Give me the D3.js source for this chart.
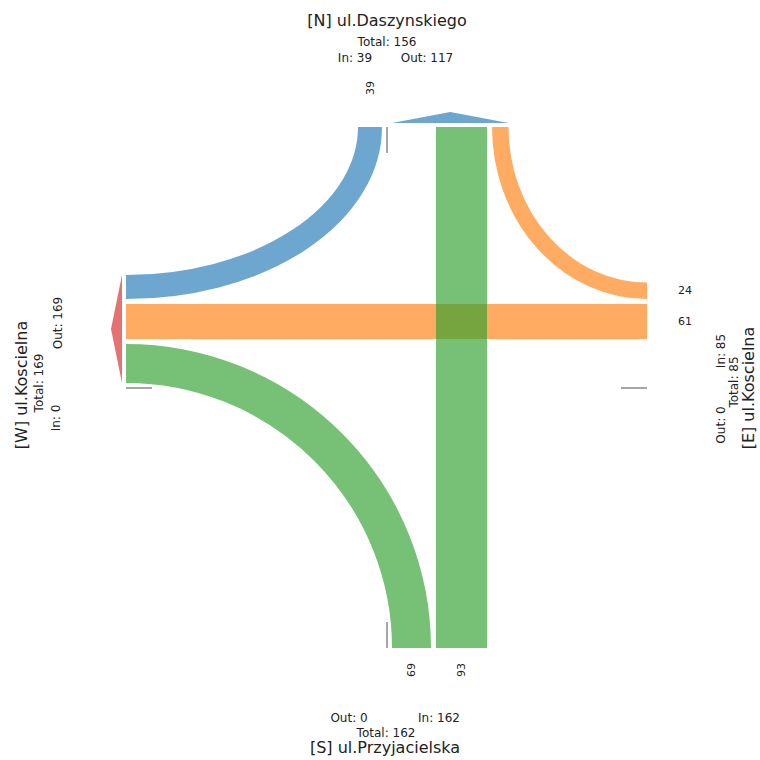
<!DOCTYPE html>
<html><head><meta charset="utf-8">
<script src="https://cdn.jsdelivr.net/npm/d3@7"></script>
<style>body{margin:0;background:#fff}svg{display:block}text{font-family:"DejaVu Sans",sans-serif;fill:#222}</style>
</head><body><svg id="c" width="760" height="760"></svg>
<script>
// ---- data ----
const approaches = ["N", "E", "S", "W"];
const streetNames = ["ul.Daszynskiego", "ul.Koscielna", "ul.Przyjacielska", "ul.Koscielna"];
const approachColors = ["#1f77b4", "#ff7f0e", "#2ca02c", "#d62728"];
const flowFrom = ["N", "E", "E", "S", "S"];
const flowTo = ["W", "N", "W", "W", "N"];
const flowValue = [39, 24, 61, 69, 93];

// ---- layout ----
const svg = d3.select("#c");
const L = 126, R = 647, T = 127, B = 648;
const cx = 387, cy = 388, gap = 5, alpha = 0.65;
const w = d3.scaleLinear().domain([0, d3.max(flowValue)]).range([4.5, 51]);
const color = d3.scaleOrdinal().domain(approaches).range(approachColors);

const flows = flowFrom.map((f, i) => ({from: f, to: flowTo[i], value: flowValue[i], w: w(flowValue[i])}));
const straight = f => (f.from === "N" && f.to === "S") || (f.from === "S" && f.to === "N") ||
                      (f.from === "E" && f.to === "W") || (f.from === "W" && f.to === "E");

// W outgoing lanes: stacked upward from centre, ordered by origin S, E, N
let pos = cy - gap;
["S", "E", "N"].forEach(o => flows.filter(f => f.to === "W" && f.from === o).forEach(f => {
  f.exit = [pos - f.w, pos]; pos = pos - f.w - gap;
}));
// S incoming lanes: stacked rightward from centre, ordered by destination W, N
pos = cx + gap;
["W", "N", "E"].forEach(d => flows.filter(f => f.from === "S" && f.to === d).forEach(f => {
  f.entry = [pos, pos + f.w]; pos = pos + f.w + gap;
}));
// N incoming lanes: stacked leftward from centre
pos = cx - gap;
["W", "S", "E"].forEach(d => flows.filter(f => f.from === "N" && f.to === d).forEach(f => {
  f.entry = [pos - f.w, pos]; pos = pos - f.w - gap;
}));
// E incoming: straight lanes reuse W positions, others stacked above
let eTop = d3.min(flows.filter(f => f.from === "E" && straight(f)), f => f.exit[0]);
flows.filter(f => f.from === "E" && straight(f)).forEach(f => { f.entry = f.exit; });
flows.filter(f => f.from === "E" && !straight(f)).forEach(f => {
  f.entry = [eTop - gap - f.w, eTop - gap]; eTop = eTop - gap - f.w;
});
// N outgoing: straight lanes reuse S positions, others stacked right
let nRight = d3.max(flows.filter(f => f.to === "N" && straight(f)), f => f.entry[1]);
flows.filter(f => f.to === "N" && straight(f)).forEach(f => { f.exit = f.entry; });
flows.filter(f => f.to === "N" && !straight(f)).forEach(f => {
  f.exit = [nRight + gap, nRight + gap + f.w]; nRight = nRight + gap + f.w;
});

const mid = a => (a[0] + a[1]) / 2;
// endpoints for each flow
function endPoint(side, range) {
  if (side === "N") return [mid(range), T];
  if (side === "S") return [mid(range), B];
  if (side === "W") return [L, mid(range)];
  return [R, mid(range)];
}
const corner = {NW: [L, T], WN: [L, T], NE: [R, T], EN: [R, T], SW: [L, B], WS: [L, B], SE: [R, B], ES: [R, B]};

const g = svg.append("g");
flows.forEach(f => {
  const s = endPoint(f.from, f.entry), e = endPoint(f.to, f.exit);
  let d;
  if (straight(f)) {
    d = `M${s[0]},${s[1]}L${e[0]},${e[1]}`;
  } else {
    const c = corner[f.from + f.to];
    const rx = Math.abs((f.from === "N" || f.from === "S" ? s[0] : e[0]) - c[0]);
    const ry = Math.abs((f.from === "N" || f.from === "S" ? e[1] : s[1]) - c[1]);
    const cross = (s[0] - c[0]) * (e[1] - c[1]) - (s[1] - c[1]) * (e[0] - c[0]);
    d = `M${s[0]},${s[1]}A${rx},${ry} 0 0 ${cross > 0 ? 1 : 0} ${e[0]},${e[1]}`;
  }
  g.append("path").attr("d", d).attr("fill", "none")
    .attr("stroke", color(f.from)).attr("stroke-opacity", alpha)
    .attr("stroke-width", f.w).attr("stroke-linecap", "butt");
});

// totals
const inTot = {}, outTot = {};
approaches.forEach(a => {
  inTot[a] = d3.sum(flows.filter(f => f.from === a), f => f.value);
  outTot[a] = d3.sum(flows.filter(f => f.to === a), f => f.value);
});

// exit arrows
const nOut = flows.filter(f => f.to === "N");
if (nOut.length) {
  const x0 = cx + gap, x1 = d3.max(nOut, f => f.exit[1]);
  g.append("path").attr("d", `M${x0},${T - 4}L${x1},${T - 4}L${(x0 + x1) / 2},${T - 15}Z`)
    .attr("fill", color("N")).attr("fill-opacity", alpha);
}
const wOut = flows.filter(f => f.to === "W");
if (wOut.length) {
  const y0 = d3.min(wOut, f => f.exit[0]), y1 = cy - gap;
  g.append("path").attr("d", `M${L - 4},${y0}L${L - 4},${y1}L${L - 15},${(y0 + y1) / 2}Z`)
    .attr("fill", color("W")).attr("fill-opacity", alpha);
}

// centre dividers
const dl = 26;
[[cx, T, cx, T + dl], [cx, B, cx, B - dl], [L, cy, L + dl, cy], [R, cy, R - dl, cy]].forEach(l => {
  g.append("line").attr("x1", l[0]).attr("y1", l[1]).attr("x2", l[2]).attr("y2", l[3])
    .attr("stroke", "#888").attr("stroke-width", 1.5);
});

// lane value labels
flows.forEach(f => {
  let x, y, rot = 0;
  if (f.from === "N") { x = mid(f.entry); y = T - 39; rot = -90; }
  else if (f.from === "S") { x = mid(f.entry); y = B + 22; rot = -90; }
  else if (f.from === "E") { x = R + 38; y = mid(f.entry); }
  else { x = L - 38; y = mid(f.entry); }
  g.append("text").attr("transform", `translate(${x},${y}) rotate(${rot})`)
    .attr("text-anchor", "middle").attr("dominant-baseline", "central")
    .attr("font-size", 11).text(f.value);
});

// approach labels
function label(x, y, rot, txt, size) {
  svg.append("text").attr("transform", `translate(${x},${y}) rotate(${rot})`)
    .attr("text-anchor", "middle").attr("font-size", size).text(txt);
}
const idx = a => approaches.indexOf(a);
const title = a => `[${a}] ${streetNames[idx(a)]}`;
// N
label(387, 26, 0, title("N"), 16);
label(387, 46, 0, `Total: ${inTot.N + outTot.N}`, 12);
label(355, 62, 0, `In: ${inTot.N}`, 12);
label(427, 62, 0, `Out: ${outTot.N}`, 12);
// S
label(349, 722, 0, `Out: ${outTot.S}`, 12);
label(439, 722, 0, `In: ${inTot.S}`, 12);
label(386, 737, 0, `Total: ${inTot.S + outTot.S}`, 12);
label(385, 753, 0, title("S"), 16);
// W
label(27, 385, -90, title("W"), 16);
label(43, 383, -90, `Total: ${inTot.W + outTot.W}`, 12);
label(60, 418, -90, `In: ${inTot.W}`, 12);
label(62, 323, -90, `Out: ${outTot.W}`, 12);
// E
label(725, 351, -90, `In: ${inTot.E}`, 12);
label(725, 425, -90, `Out: ${outTot.E}`, 12);
label(738, 382, -90, `Total: ${inTot.E + outTot.E}`, 12);
label(754, 388, -90, title("E"), 16);
</script></body></html>
